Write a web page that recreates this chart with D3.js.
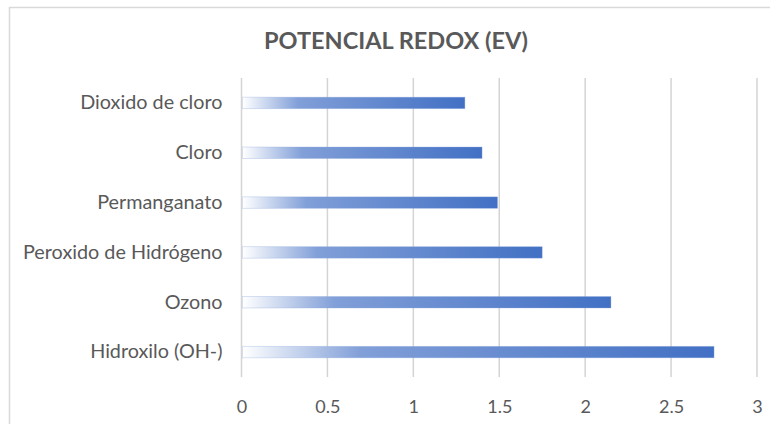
<!DOCTYPE html>
<html>
<head>
<meta charset="utf-8">
<script src="https://cdn.jsdelivr.net/npm/d3@7"></script>
<style>
body { margin: 0; background: #fff; }
text { font-family: Lato, "Open Sans", sans-serif; }
</style>
</head>
<body>
<script>

var chartTitle = "POTENCIAL REDOX (EV)"

// top to bottom as in the chart
var categories = ["Dioxido de cloro", "Cloro", "Permanganato", "Peroxido de Hidrógeno", "Ozono", "Hidroxilo (OH-)"]
var values = [1.30, 1.40, 1.49, 1.75, 2.15, 2.75]

var tickValues = [0, 0.5, 1, 1.5, 2, 2.5, 3]

var width = 770
var height = 424
var margin = {top: 78, right: 13, bottom: 47, left: 241.5}

var svg = d3.select("body").append("svg")
    .attr("width", width)
    .attr("height", height)

// chart frame (only top and left edges show in the picture)
svg.append("path")
    .attr("d", "M9.5," + height + "V7.5H" + width)
    .attr("fill", "none")
    .attr("stroke", "#d9d9d9")
    .attr("stroke-width", 1.5)

var defs = svg.append("defs")
var grad = defs.append("linearGradient")
    .attr("id", "barGrad")
    .attr("x1", "0").attr("x2", "1").attr("y1", "0").attr("y2", "0")
grad.append("stop").attr("offset", "0").attr("stop-color", "#ffffff")
grad.append("stop").attr("offset", "0.25").attr("stop-color", "#819fd8")
grad.append("stop").attr("offset", "1").attr("stop-color", "#4270c4")

var x = d3.scaleLinear()
    .domain([0, 3])
    .range([margin.left, width - margin.right])

var y = d3.scaleBand()
    .domain(categories)
    .range([margin.top, height - margin.bottom])
    .paddingInner(0.77)
    .paddingOuter(0.385)

// gridlines
svg.append("g")
    .selectAll("line")
    .data(tickValues)
    .enter()
    .append("line")
    .attr("x1", (d) => {return x(d)})
    .attr("x2", (d) => {return x(d)})
    .attr("y1", margin.top)
    .attr("y2", height - margin.bottom)
    .attr("stroke", "#d4d4d4")
    .attr("stroke-width", 1.5)

// x axis labels
var xAxis = d3.axisBottom(x)
    .tickValues(tickValues)
    .tickSize(0)
    .tickPadding(0)
    .tickFormat((d) => {return String(d)})

var gx = svg.append("g")
    .attr("transform", "translate(0," + (height - margin.bottom + 36) + ")")
    .call(xAxis)
gx.select(".domain").remove()
gx.selectAll("text")
    .attr("dy", 0)
    .attr("fill", "#595959")
    .style("font-size", "18px")
    .style("font-family", "Lato, 'Open Sans', sans-serif")

// y axis labels
var yAxis = d3.axisLeft(y)
    .tickSize(0)
    .tickPadding(19)

var gy = svg.append("g")
    .attr("transform", "translate(" + margin.left + ",0)")
    .call(yAxis)
gy.select(".domain").remove()
gy.selectAll("text")
    .attr("fill", "#595959")
    .style("font-size", "19.8px")
    .style("font-family", "Lato, 'Open Sans', sans-serif")

// bars
svg.append("g")
    .selectAll("rect")
    .data(values)
    .enter()
    .append("rect")
    .attr("x", x(0) + 1)
    .attr("y", (d, i) => {return y(categories[i])})
    .attr("width", (d) => {return x(d) - x(0) - 1})
    .attr("height", y.bandwidth())
    .attr("fill", "url(#barGrad)")
    .attr("stroke", "#8aa7dc")
    .attr("stroke-opacity", 0.4)
    .attr("stroke-width", 0.8)

// title
svg.append("text")
    .attr("x", 396)
    .attr("y", 49)
    .attr("text-anchor", "middle")
    .attr("fill", "#595959")
    .style("font-size", "23.5px")
    .style("font-weight", "bold")
    .text(chartTitle)

</script>
</body>
</html>
